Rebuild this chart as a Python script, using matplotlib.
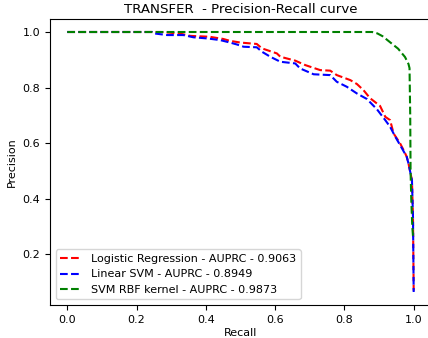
import matplotlib
matplotlib.use("Agg")
import matplotlib.pyplot as plt

# Logistic Regression
lr_recall = [0.0, 0.27, 0.30, 0.33, 0.355, 0.41, 0.45, 0.47, 0.50, 0.547, 0.562, 0.605,
             0.615, 0.658, 0.687, 0.73, 0.759, 0.778, 0.817, 0.836, 0.855, 0.874, 0.903,
             0.918, 0.932, 0.942, 0.961, 0.971, 0.98, 0.985, 0.995, 0.998, 1.0]
lr_precision = [1.0, 1.0, 0.997, 0.993, 0.986, 0.983, 0.975, 0.968, 0.962, 0.957, 0.941, 0.923,
                0.911, 0.897, 0.881, 0.863, 0.861, 0.845, 0.827, 0.813, 0.791, 0.762, 0.734,
                0.695, 0.683, 0.635, 0.599, 0.575, 0.551, 0.527, 0.467, 0.334, 0.07]

# Linear SVM
lsvm_recall = [0.0, 0.245, 0.25, 0.288, 0.335, 0.364, 0.403, 0.441, 0.47, 0.49, 0.509, 0.547,
               0.562, 0.586, 0.615, 0.658, 0.672, 0.711, 0.759, 0.778, 0.807, 0.836, 0.865,
               0.894, 0.918, 0.932, 0.947, 0.961, 0.98, 0.985, 0.995, 0.998, 1.0]
lsvm_precision = [1.0, 1.0, 0.995, 0.989, 0.989, 0.981, 0.977, 0.971, 0.962, 0.955, 0.947, 0.945,
                  0.929, 0.911, 0.893, 0.887, 0.869, 0.848, 0.845, 0.821, 0.803, 0.779, 0.759,
                  0.722, 0.683, 0.659, 0.623, 0.593, 0.551, 0.527, 0.467, 0.334, 0.065]

# SVM RBF kernel
rbf_recall = [0.0, 0.88, 0.895, 0.91, 0.925, 0.94, 0.955, 0.965, 0.975, 0.985, 0.988,
              0.990, 0.991, 0.993, 0.996, 0.998]
rbf_precision = [1.0, 1.0, 0.995, 0.985, 0.97, 0.955, 0.94, 0.925, 0.91, 0.885, 0.87,
                 0.70, 0.50, 0.40, 0.30, 0.265]

labels = ["Logistic Regression - AUPRC - 0.9063",
          "Linear SVM - AUPRC - 0.8949",
          "SVM RBF kernel - AUPRC - 0.9873"]

plt.rcParams['font.size'] = 8
fig = plt.figure(figsize=(4.28, 3.38), dpi=100)
# axes spans x 50..431 px (right spine falls just outside), y 19..305 px
ax = fig.add_axes([50 / 428, 33 / 338, 381 / 428, 286 / 338])
ax.plot(lr_recall, lr_precision, 'r--', label=labels[0])
ax.plot(lsvm_recall, lsvm_precision, 'b--', label=labels[1])
ax.plot(rbf_recall, rbf_precision, 'g--', label=labels[2])
ax.set_title("TRANSFER  - Precision-Recall curve", fontsize=9.6, pad=4)
ax.set_xlabel("Recall", labelpad=2)
ax.set_ylabel("Precision")
ax.legend(loc="lower left")
fig.savefig("out.png", dpi=100)
